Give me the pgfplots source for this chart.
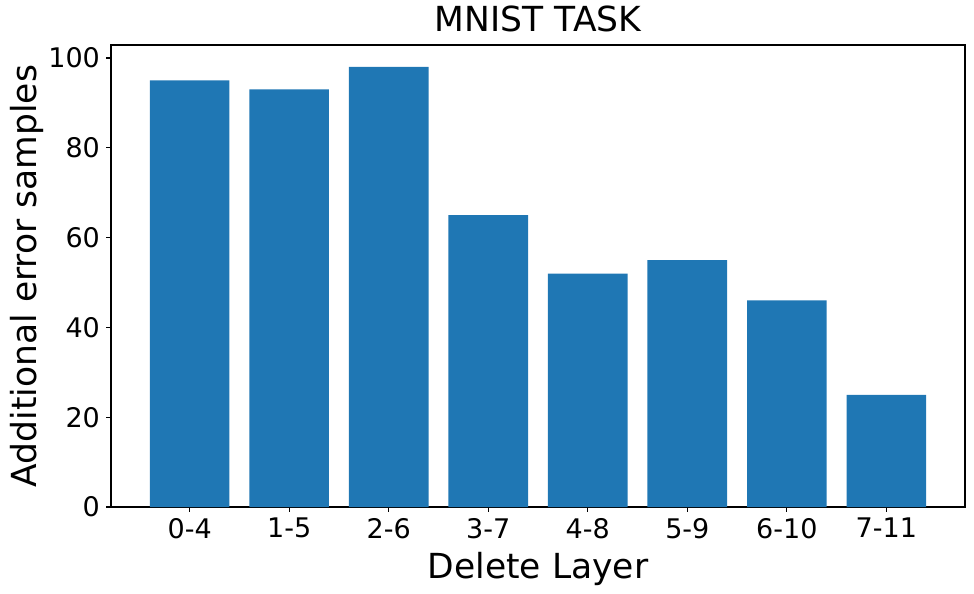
\documentclass[border=0pt]{standalone}
\usepackage{fontspec}
\setmainfont{DejaVu Sans}
\usepackage{pgfplots}
\pgfplotsset{compat=1.18}
\definecolor{mplblue}{HTML}{1F77B4}

\begin{document}
\begin{tikzpicture}
\begin{axis}[
    at={(0,0)}, anchor=south west,
    scale only axis,
    width=854pt, height=462pt,
    xmin=-0.79, xmax=7.79,
    ymin=0, ymax=102.9,
    axis line style={line width=1.1pt},
    tick style={line width=1.1pt, black},
    major tick length=4.9pt,
    tick align=outside,
    xtick pos=left, ytick pos=left,
    xtick={0,...,7},
    xticklabels={0-4,1-5,2-6,3-7,4-8,5-9,6-10,7-11},
    ytick={0,20,...,100},
    /pgf/number format/assume math mode=true,
    ticklabel style={font=\fontsize{27}{32}\selectfont},
    xticklabel style={anchor=north, inner sep=0pt, yshift=-6pt},
    yticklabel style={anchor=east, inner sep=0pt, xshift=-6pt},
    xlabel={Delete Layer},
    ylabel={Additional error samples},
    title={MNIST TASK},
    label style={font=\fontsize{34.5}{41}\selectfont},
    xlabel style={at={(axis description cs:0.5,-0.1537)}, anchor=base, inner sep=0pt},
    ylabel style={at={(axis description cs:-0.0867,0.5)}, anchor=base, inner sep=0pt},
    title style={font=\fontsize{34.5}{41}\selectfont, at={(axis description cs:0.5,1.0152)}, anchor=base, inner sep=0pt, yshift=0pt},
    ybar, bar width=0.8,
]
\addplot[fill=mplblue, draw=none] coordinates {
    (0,95) (1,93) (2,98) (3,65) (4,52) (5,55) (6,46) (7,25)
};
\end{axis}
\path[use as bounding box] (-111pt,-87pt) rectangle (863pt,507pt);
\end{tikzpicture}
\end{document}
